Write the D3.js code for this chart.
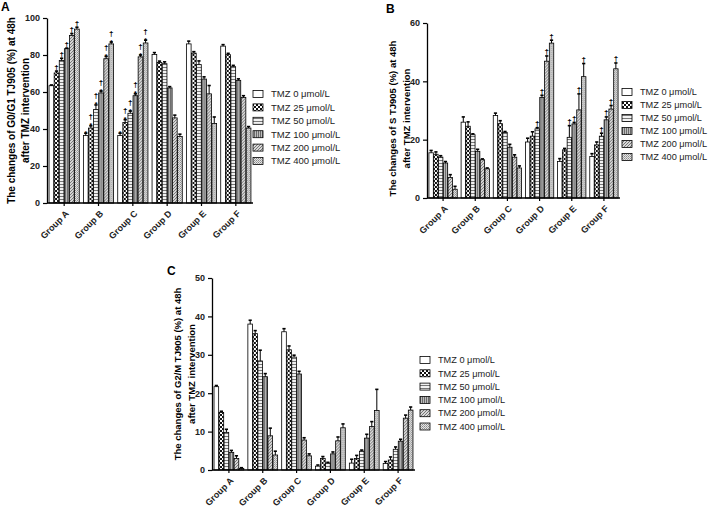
<!DOCTYPE html>
<html><head><meta charset="utf-8">
<script src="https://cdn.jsdelivr.net/npm/d3@7"></script>
<style>body{margin:0;background:#fff} svg{display:block} text{font-family:"Liberation Sans",Arial,sans-serif}</style>
</head><body><svg id="c" width="708" height="509"></svg>
<script>
const groups = ["Group A","Group B","Group C","Group D","Group E","Group F"];
const doses = ["TMZ 0 μmol/L","TMZ 25 μmol/L","TMZ 50 μmol/L","TMZ 100 μmol/L","TMZ 200 μmol/L","TMZ 400 μmol/L"];

// Panel A: G0/G1 (rows = groups, cols = doses)
const g0g1Mean = [
  [63.4,70.3,77,83.4,90.6,94],
  [36.5,40.5,50.5,59.5,78,86],
  [36.5,43.5,48.5,58,79,86.5],
  [80.3,76,75.3,62.2,46,36],
  [86,81,74.8,67,59,43],
  [84.8,80.2,73.7,66.3,57,40.5]
];
const g0g1Err = [
  [0.4,1,1.2,0.3,1,1],
  [1.2,1.2,2.5,1,1.2,1],
  [1.2,1.5,1.2,1,1,1.5],
  [1,0.7,1,0.7,1.5,1.2],
  [1.5,0.8,2,1.2,4.5,3.5],
  [0.8,0.7,0.7,0.8,1,0.8]
];
const g0g1Marks = [
  ["","†","†","†","†","†"],
  ["*","†*","†*","†*","†*","†*"],
  ["*","†*","†*","†*","†*","†*"],
  ["","","","","",""],
  ["","","","","",""],
  ["","","","","",""]
];

// Panel B: S phase
const sMean = [
  [15.5,15,14,12,7,3],
  [26,24.6,21.7,16,13.1,10],
  [28.3,25.5,22.5,17.4,14,10.3],
  [19.2,21.2,23.7,34.5,46.9,53.1],
  [12.5,16.5,20.8,25.4,30.2,41.6],
  [14.2,18.2,21.2,26.8,30.5,44.3]
];
const sErr = [
  [0.8,0.8,0.5,0.5,1,1],
  [1.8,1.5,0.3,0.7,0.3,0.3],
  [0.8,1,0.3,1,0.8,0.7],
  [1.3,1.5,0.4,0.7,1.8,1],
  [1,0.5,4,0.5,5.5,4.5],
  [1,1,1,1,1.2,2]
];
const sMarks = [
  ["","","","","",""],
  ["","","","","",""],
  ["","","","","",""],
  ["","","†","†","†","†"],
  ["","","†","†","†","†"],
  ["","","†","†","†","†"]
];

// Panel C: G2/M
const g2mMean = [
  [21.7,15,9.8,4.6,3,0.4],
  [38,35.5,28.4,24.3,8.9,3.9],
  [36,31.3,29.4,25,7.8,3.7],
  [1,3,1.8,4.2,7.6,11],
  [1.8,3,4.9,8.3,11.3,15.5],
  [1.7,2.6,5.4,7.5,13.5,15.6]
];
const g2mErr = [
  [0.3,0.3,0.8,0.5,0.7,0.2],
  [1,0.8,2.8,0.8,2,1],
  [0.8,1,0.5,0.7,0.6,0.5],
  [0.3,0.5,0.2,0.5,1,1],
  [1,0.8,0.3,1,1.3,5.5],
  [0.5,0.8,0.6,0.5,0.8,0.8]
];

const yTicksA = [0,20,40,60,80,100];
const yTicksB = [0,20,40,60];
const yTicksC = [0,10,20,30,40,50];

const svg = d3.select("#c");
const defs = svg.append("defs");

// patterns
function pattern(id, w, h, bg, draw) {
  const p = defs.append("pattern").attr("id", id).attr("patternUnits","userSpaceOnUse").attr("width", w).attr("height", h);
  p.append("rect").attr("width", w).attr("height", h).attr("fill", bg);
  draw(p);
}
pattern("p0", 4, 4, "#fff", p => {});
pattern("p1", 4, 4, "#fff", p => {
  p.append("rect").attr("x",0).attr("y",0).attr("width",2).attr("height",2).attr("fill","#111");
  p.append("rect").attr("x",2).attr("y",2).attr("width",2).attr("height",2).attr("fill","#111");
});
pattern("p2", 3, 3, "#f2f2f2", p => {
  p.append("rect").attr("x",0).attr("y",1).attr("width",3).attr("height",1).attr("fill","#777");
});
pattern("p3", 2, 2, "#bdbdbd", p => {
  p.append("rect").attr("x",0).attr("y",0).attr("width",1).attr("height",2).attr("fill","#6a6a6a");
});
pattern("p4", 3, 3, "#d8d8d8", p => {
  p.append("path").attr("d","M0,3 L3,0 M-1,1 L1,-1 M2,4 L4,2").attr("stroke","#6a6a6a").attr("stroke-width",0.9);
});
pattern("p5", 2, 2, "#e6e6e6", p => {
  p.append("rect").attr("x",0).attr("y",0).attr("width",1).attr("height",1).attr("fill","#8a8a8a");
  p.append("rect").attr("x",1).attr("y",1).attr("width",1).attr("height",1).attr("fill","#a8a8a8");
});
const fills = doses.map((d,i) => `url(#p${i})`);

function panel(cfg) {
  const g = svg.append("g");
  const x = d3.scaleBand().domain(groups).range([cfg.x0, cfg.x1]).paddingInner(0.12).paddingOuter(0.06);
  const xs = d3.scaleBand().domain(d3.range(doses.length)).range([0, x.bandwidth()]).paddingInner(0.08);
  const y = d3.scaleLinear().domain([0, cfg.max]).range([cfg.y0, cfg.y1]);

  // bars
  groups.forEach((grp, gi) => {
    const gg = g.append("g").attr("transform", `translate(${x(grp)},0)`);
    const rows = cfg.mean[gi].map((v, di) => ({v, e: cfg.err[gi][di], di, m: cfg.marks ? cfg.marks[gi][di] : ""}));
    gg.selectAll("rect.bar").data(rows).join("rect").attr("class","bar")
      .attr("x", d => xs(d.di)).attr("width", xs.bandwidth())
      .attr("y", d => y(d.v)).attr("height", d => y(0) - y(d.v))
      .attr("fill", d => fills[d.di]).attr("stroke","#000").attr("stroke-width",0.8);
    // error bars
    const eb = gg.selectAll("g.eb").data(rows).join("g").attr("class","eb");
    eb.append("line").attr("x1", d => xs(d.di) + xs.bandwidth()/2).attr("x2", d => xs(d.di) + xs.bandwidth()/2)
      .attr("y1", d => y(d.v)).attr("y2", d => y(d.v + d.e)).attr("stroke","#000").attr("stroke-width",1);
    eb.append("line").attr("x1", d => xs(d.di) + xs.bandwidth()/2 - 1.6).attr("x2", d => xs(d.di) + xs.bandwidth()/2 + 1.6)
      .attr("y1", d => y(d.v + d.e)).attr("y2", d => y(d.v + d.e)).attr("stroke","#000").attr("stroke-width",1.6);
    // marks
    rows.forEach(d => {
      if (!d.m) return;
      const cx = xs(d.di) + xs.bandwidth()/2;
      let ty = y(d.v + d.e) - 1.5;
      if (d.m.includes("*")) {
        gg.append("text").attr("x", cx).attr("y", ty + 4).attr("text-anchor","middle").attr("fill","#000")
          .attr("font-size", 8).attr("font-weight","bold").text("*");
        ty -= 5;
      }
      if (d.m.includes("†")) {
        gg.append("text").attr("x", cx).attr("y", ty).attr("text-anchor","middle").attr("fill","#000")
          .attr("font-size", 8).attr("font-weight","bold").text("†");
      }
    });
  });

  // y axis
  const ya = g.append("g").attr("transform", `translate(${cfg.x0},0)`)
    .call(d3.axisLeft(y).tickValues(cfg.ticks).tickSize(4).tickSizeOuter(0));
  ya.select(".domain").attr("stroke-width",1.3);
  ya.selectAll(".tick line").attr("stroke-width",1.2);
  ya.selectAll("text").attr("font-size", 9).attr("font-weight","bold").attr("font-family","Liberation Sans, Arial, sans-serif").attr("fill","#222");

  // x axis
  const xa = g.append("g").attr("transform", `translate(0,${cfg.y0})`)
    .call(d3.axisBottom(x).tickSize(3).tickSizeOuter(0));
  xa.select(".domain").attr("stroke-width",1.3).attr("d", `M${cfg.x0},0H${cfg.x1}`);
  xa.selectAll(".tick line").attr("stroke-width",1.2);
  xa.selectAll("text").attr("font-size", 9).attr("font-weight","bold").attr("font-family","Liberation Sans, Arial, sans-serif").attr("fill","#222")
    .attr("y", 0).attr("dy", "0.35em").attr("text-anchor","end")
    .attr("transform","translate(3,9) rotate(-45)");

  // y title
  const tc = (cfg.y0 + cfg.y1) / 2 + (cfg.titleShift || 0);
  g.append("text").attr("transform", `translate(${cfg.tx1},${tc}) rotate(-90)`).attr("text-anchor","middle")
    .attr("font-size", cfg.tfs).attr("font-weight","bold").attr("dy","0.35em").text(cfg.title1);
  g.append("text").attr("transform", `translate(${cfg.tx2},${tc}) rotate(-90)`).attr("text-anchor","middle")
    .attr("font-size", cfg.tfs).attr("font-weight","bold").attr("dy","0.35em").text(cfg.title2);

  // panel letter
  g.append("text").attr("x", cfg.lx).attr("y", cfg.ly).attr("font-size", 12).attr("font-weight","bold").text(cfg.letter);

  // legend
  const lg = g.append("g");
  doses.forEach((d, i) => {
    const yy = cfg.legY + i * cfg.legStep;
    lg.append("rect").attr("x", cfg.legX).attr("y", yy - 3.5).attr("width", 10).attr("height", 7)
      .attr("fill", fills[i]).attr("stroke","#000").attr("stroke-width",0.8);
    lg.append("text").attr("x", cfg.legX + 18).attr("y", yy).attr("dy","0.35em")
      .attr("font-size", cfg.lfs).attr("fill","#222").text(d);
  });
}

panel({letter:"A", lx:1, ly:11, x0:47, x1:253, y0:203, y1:18, max:100, ticks:yTicksA,
  mean:g0g1Mean, err:g0g1Err, marks:g0g1Marks,
  title1:"The changes of G0/G1 TJ905 (%) at 48h", title2:"after TMZ intervention", tx1:11, tx2:25, tfs:10,
  legX:253, legY:94, legStep:13.4, lfs:9.5});

panel({letter:"B", lx:386, ly:13, x0:427, x1:620, y0:198, y1:23, max:60, ticks:yTicksB,
  mean:sMean, err:sErr, marks:sMarks, titleShift:8,
  title1:"The changes of S TJ905 (%) at 48h", title2:"after TMZ intervention", tx1:393, tx2:407, tfs:9.5,
  legX:622, legY:92, legStep:13, lfs:9.2});

panel({letter:"C", lx:167, ly:275, x0:212, x1:415, y0:470, y1:278, max:50, ticks:yTicksC,
  mean:g2mMean, err:g2mErr, marks:null,
  title1:"The changes of G2/M TJ905 (%) at 48h", title2:"after  TMZ intervention", tx1:178, tx2:192, tfs:9.5,
  legX:420, legY:360, legStep:13.3, lfs:9.2});
</script></body></html>
